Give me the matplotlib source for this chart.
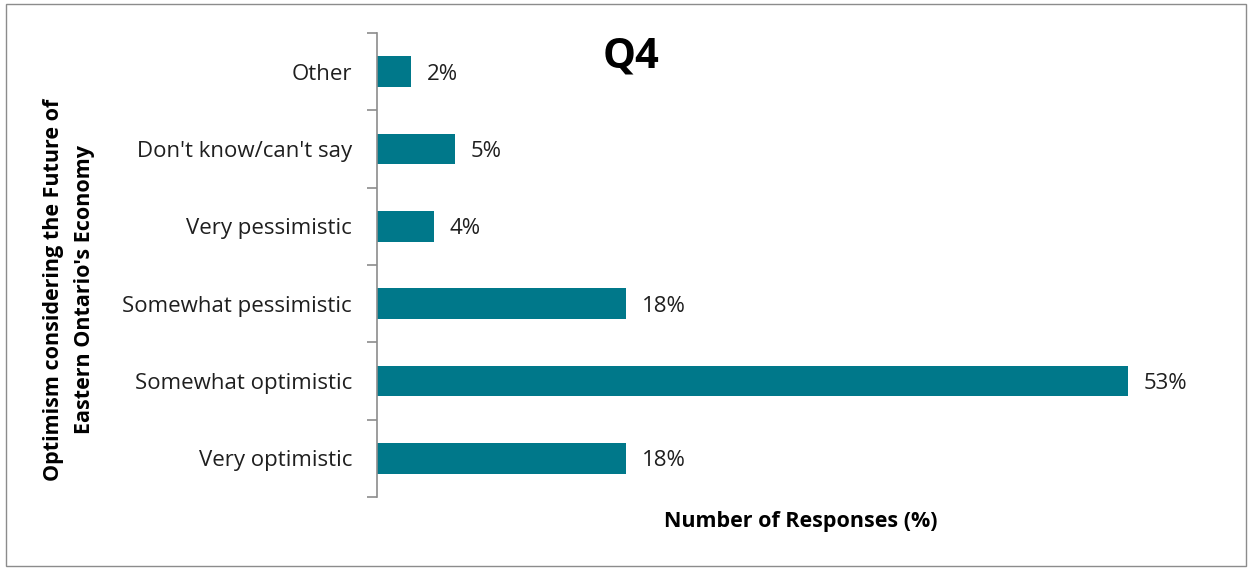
import matplotlib.pyplot as plt
from matplotlib.patches import Rectangle

# data (bottom to top)
categories = ["Very optimistic", "Somewhat optimistic", "Somewhat pessimistic",
              "Very pessimistic", "Don't know/can't say", "Other"]
values = [17.6, 53.1, 17.6, 4.0, 5.5, 2.4]
value_labels = ["18%", "53%", "18%", "4%", "5%", "2%"]

bar_color = "#00788A"
text_color = "#1f1f1f"
font = "Open Sans"

W, H = 1252, 568
fig = plt.figure(figsize=(W / 100, H / 100), dpi=100)
ax = fig.add_axes([377 / W, 1 - 497 / H, (1226 - 377) / W, (497 - 33) / H])

pos = list(range(len(categories)))
ax.barh(pos, values, height=0.4, color=bar_color)
ax.set_xlim(0, 60)
ax.set_ylim(-0.5, len(categories) - 0.5)

for y, v, lab in zip(pos, values, value_labels):
    ax.text(v + 1.1, y, lab, va="center_baseline", ha="left", fontsize=16,
            family=font, color=text_color)

# spines / ticks
for s in ["top", "right", "bottom"]:
    ax.spines[s].set_visible(False)
ax.spines["left"].set_color("#8c8c8c")
ax.spines["left"].set_linewidth(1.2)
ax.set_xticks([])
ax.set_yticks(pos)
ax.set_yticklabels(categories, family=font, fontsize=16, color=text_color)
ax.tick_params(axis="y", which="major", length=0, pad=18)
ax.set_yticks([p - 0.5 for p in pos] + [len(pos) - 0.5], minor=True)
ax.tick_params(axis="y", which="minor", length=7, width=1.2, color="#8c8c8c")

# texts
fig.text(631 / W, 1 - 57 / H, "Q4", ha="center", va="center", fontsize=30,
         fontweight="bold", family=font, color="black")
fig.text(801 / W, 1 - 521 / H, "Number of Responses (%)", ha="center", va="center",
         fontsize=15.5, fontweight="bold", family=font, color="black")
fig.text(69 / W, 1 - 290 / H, "Optimism considering the Future of\nEastern Ontario's Economy",
         ha="center", va="center", rotation=90, fontsize=15.5, fontweight="bold",
         family=font, color="black", linespacing=1.6)

# outer border
fig.add_artist(Rectangle((6 / W, 2 / H), (1246 - 6) / W, (564 - 2) / H,
                         transform=fig.transFigure, fill=False,
                         edgecolor="#8c8c8c", linewidth=1))

fig.savefig("out.png", dpi=100)
